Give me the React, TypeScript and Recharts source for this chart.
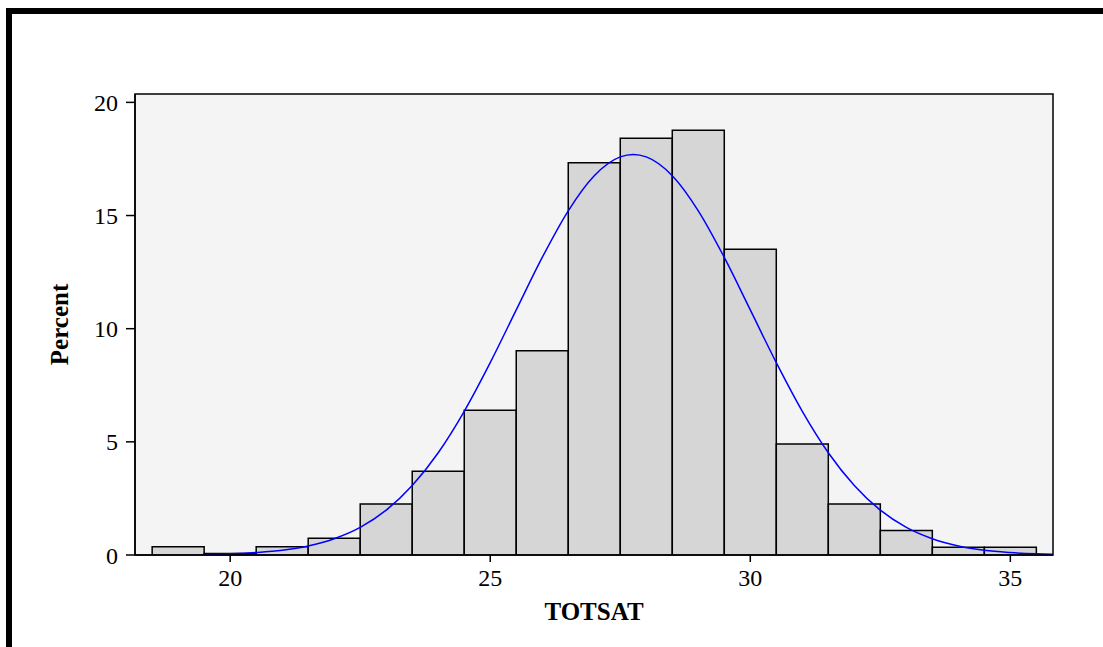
import React from 'react';
import {
    ComposedChart,
    Bar,
    Line,
    XAxis,
    YAxis,
    CartesianGrid,
    ReferenceArea,
    Label,
} from 'recharts';

// histogram bins (centre of each 1-point bin) and their percentages
const binCenters = [19, 20, 21, 22, 23, 24, 25, 26, 27, 28, 29, 30, 31, 32, 33, 34, 35];
const percents = [0.37, 0.07, 0.37, 0.74, 2.25, 3.7, 6.4, 9.02, 17.33, 18.41, 18.77, 13.51, 4.91, 2.25, 1.08, 0.34, 0.34];

// fitted normal curve
const curveX = [
    19.5, 20, 20.5, 21, 21.5, 22, 22.5, 23, 23.5, 24, 24.5, 25, 25.5, 26, 26.5, 27, 27.5, 27.75,
    28, 28.5, 29, 29.5, 30, 30.5, 31, 31.5, 32, 32.5, 33, 33.5, 34, 34.5, 35, 35.5, 35.82,
];
const curveY = [
    0.02, 0.05, 0.11, 0.21, 0.4, 0.72, 1.22, 1.98, 3.07, 4.52, 6.35, 8.5, 10.83, 13.15, 15.21, 16.76, 17.59, 17.7,
    17.59, 16.76, 15.21, 13.15, 10.83, 8.5, 6.35, 4.52, 3.07, 1.98, 1.22, 0.72, 0.4, 0.21, 0.11, 0.05, 0.03,
];

const xTicks = [20, 25, 30, 35];
const yTicks = [0, 5, 10, 15, 20];

const xDomain: [number, number] = [18.17, 35.82];
const yDomain: [number, number] = [0, 20.37];

const barData = binCenters.map((x, i) => ({ x, percent: percents[i] }));
const curveData = curveX.map((x, i) => ({ x, curve: curveY[i] }));

const serif = '"Liberation Serif", "Times New Roman", serif';
const tickStyle = { fontFamily: serif, fontSize: 24, fill: '#000' };
const labelStyle = { fontFamily: serif, fontSize: 25, fontWeight: 'bold', fill: '#000' };

const App: React.FC = () => {
    return (
        <div style={{ position: 'fixed', left: 0, top: 0, width: 1103, height: 647, background: '#fff' }}>
            {/* outer frame, top and left only */}
            <div
                style={{
                    position: 'absolute',
                    left: 6,
                    top: 8,
                    width: 1097,
                    height: 639,
                    borderTop: '6px solid #000',
                    borderLeft: '6px solid #000',
                    boxSizing: 'border-box',
                }}
            />
            <div style={{ position: 'absolute', left: 0, top: 0 }}>
                <ComposedChart
                    width={1103}
                    height={647}
                    data={barData}
                    barCategoryGap={0}
                    barGap={0}
                    margin={{ top: 94, right: 50, bottom: 32, left: 0 }}
                >
                    {/* plot background */}
                    <CartesianGrid horizontal={false} vertical={false} fill="#f4f4f4" />

                    <XAxis
                        dataKey="x"
                        type="number"
                        domain={xDomain}
                        ticks={xTicks}
                        allowDataOverflow
                        height={60}
                        tickSize={7}
                        tickMargin={7}
                        tick={tickStyle}
                        axisLine={{ stroke: '#000', strokeWidth: 1.5 }}
                        tickLine={{ stroke: '#000', strokeWidth: 1.5 }}
                    >
                        <Label value="TOTSAT" position="center" dy={26} style={labelStyle} />
                    </XAxis>
                    <XAxis xAxisId="curve" dataKey="x" type="number" domain={xDomain} allowDataOverflow hide />
                    <YAxis
                        type="number"
                        domain={yDomain}
                        ticks={yTicks}
                        allowDataOverflow
                        width={135}
                        tickSize={9}
                        tickMargin={8}
                        tick={tickStyle}
                        axisLine={{ stroke: '#000', strokeWidth: 1.5 }}
                        tickLine={{ stroke: '#000', strokeWidth: 1.5 }}
                    >
                        <Label value="Percent" angle={-90} position="center" dx={-8.5} style={labelStyle} />
                    </YAxis>

                    <Bar
                        dataKey="percent"
                        fill="#d6d6d6"
                        stroke="#000"
                        strokeWidth={1.5}
                        isAnimationActive={false}
                    />
                    <Line
                        data={curveData}
                        xAxisId="curve"
                        dataKey="curve"
                        type="monotone"
                        stroke="#0000ff"
                        strokeWidth={1.5}
                        dot={false}
                        activeDot={false}
                        isAnimationActive={false}
                    />

                    {/* plot border */}
                    <ReferenceArea
                        x1={xDomain[0]}
                        x2={xDomain[1]}
                        y1={yDomain[0]}
                        y2={yDomain[1]}
                        fill="none"
                        stroke="#000"
                        strokeWidth={1.5}
                        ifOverflow="visible"
                    />
                </ComposedChart>
            </div>
        </div>
    );
};

export default App;
